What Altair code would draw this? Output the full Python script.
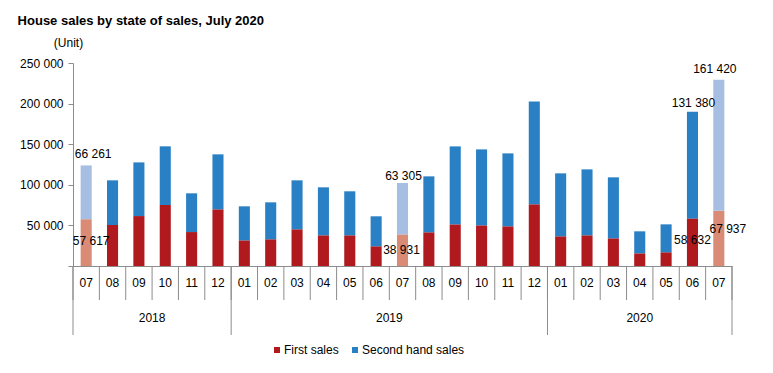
import altair as alt
import pandas as pd

years = ["2018"] * 6 + ["2019"] * 12 + ["2020"] * 7
months = ["07", "08", "09", "10", "11", "12",
          "01", "02", "03", "04", "05", "06", "07", "08", "09", "10", "11", "12",
          "01", "02", "03", "04", "05", "06", "07"]
first_sales = [57617, 50500, 61500, 75100, 41800, 69800,
               31600, 32900, 45200, 37800, 37800, 24300, 38931, 41500, 51300, 50100, 48900, 76000,
               36600, 37800, 34100, 15600, 16900, 58632, 67937]
second_hand_sales = [66261, 55000, 66100, 72300, 47700, 67700,
                     41900, 45500, 60300, 59100, 54200, 36900, 63305, 68900, 96000, 93500, 89800, 126700,
                     77500, 81200, 75100, 27100, 34400, 131380, 161420]
highlighted = ["2018-07", "2019-07", "2020-07"]
labelled = ["2018-07", "2019-07", "2020-06", "2020-07"]

series_names = ["First sales", "Second hand sales"]
color_domain = ["First sales", "Second hand sales", "First sales ", "Second hand sales "]
color_range = ["#B0191D", "#2980C4", "#D98B76", "#A5BEE2"]

# label nudges (pixels): top label dx, dy ; first-sales label dx, dy
label_nudge = {
    "2018-07": (7, -11, 5, 22),
    "2019-07": (1, -7, -1, 16),
    "2020-06": (1, -9, 0, 22),
    "2020-07": (-4, -11, 9, 18),
}

keys = [f"{y}-{m}" for y, m in zip(years, months)]
n = len(keys)

rows = []
for i, k in enumerate(keys):
    hl = k in highlighted
    for s, (name, vals) in enumerate(zip(series_names, [first_sales, second_hand_sales])):
        rows.append({"key": k, "series": name, "value": vals[i], "order": s,
                     "cat": name + (" " if hl else "")})
bars_df = pd.DataFrame(rows)


def fmt(v):
    return f"{v:,}".replace(",", " ")


lab_rows = []
for i, k in enumerate(keys):
    if k in labelled:
        lab_rows.append({"key": k, "first": first_sales[i],
                         "total": first_sales[i] + second_hand_sales[i],
                         "first_txt": fmt(first_sales[i]),
                         "second_txt": fmt(second_hand_sales[i])})
lab_df = pd.DataFrame(lab_rows)

sep_rows = []
for b in range(n + 1):
    is_year = b == 0 or b == n or years[b] != years[b - 1]
    sep_rows.append({"pos": b, "year_sep": is_year})
sep_df = pd.DataFrame(sep_rows)

year_rows = []
for y in sorted(set(years)):
    idx = [i for i, yy in enumerate(years) if yy == y]
    year_rows.append({"year": y, "pos": (idx[0] + idx[-1] + 1) / 2})
year_df = pd.DataFrame(year_rows)

W, H = 659, 203
FONT = "Liberation Sans"
GRAY = "#8C8C8C"

xband = alt.X("key:N", sort=keys, scale=alt.Scale(paddingInner=0, paddingOuter=0),
              axis=alt.Axis(title=None, labelExpr="substring(datum.label, 5)", labelAngle=0,
                            ticks=False, domainColor=GRAY, labelPadding=11, labelFontSize=12,
                            labelFont=FONT, labelColor="#000000"))

yq = alt.Y("value:Q", stack="zero",
           scale=alt.Scale(domain=[0, 250000], nice=False),
           axis=alt.Axis(values=[0, 50000, 100000, 150000, 200000, 250000],
                         labelExpr="datum.value == 0 ? '' : replace(format(datum.value, ','), ',', ' ')",
                         grid=False, tickSize=5, domainColor=GRAY, tickColor=GRAY,
                         labelFontSize=12, labelFont=FONT, labelColor="#000000", labelPadding=5,
                         title="(Unit)", titleAngle=0, titleX=-5, titleY=-21,
                         titleAlign="center", titleBaseline="middle", titleFontWeight="normal",
                         titleFontSize=12, titleFont=FONT, titleColor="#000000"))

bars = alt.Chart(bars_df).mark_bar(width=alt.RelativeBandSize(0.42)).encode(
    x=xband,
    y=yq,
    color=alt.Color("cat:N", scale=alt.Scale(domain=color_domain, range=color_range),
                    legend=alt.Legend(values=series_names, title=None, orient="none",
                                      direction="horizontal", legendX=198, legendY=281,
                                      symbolType="square", symbolSize=36, symbolStrokeWidth=0,
                                      labelFontSize=12, labelFont=FONT, labelColor="#000000",
                                      labelOffset=1, columnPadding=10)),
    order=alt.Order("order:Q"),
)

label_layers = []
for k, (tdx, tdy, fdx, fdy) in label_nudge.items():
    base = alt.Chart(lab_df).transform_filter(alt.datum.key == k)
    label_layers.append(base.mark_text(dx=tdx, dy=tdy, fontSize=12, font=FONT, color="#000000").encode(
        x=alt.X("key:N", sort=keys), y=alt.Y("total:Q"), text="second_txt:N"))
    label_layers.append(base.mark_text(dx=fdx, dy=fdy, fontSize=12, font=FONT, color="#000000").encode(
        x=alt.X("key:N", sort=keys), y=alt.Y("first:Q"), text="first_txt:N"))

xq = alt.X("pos:Q", scale=alt.Scale(domain=[0, n], nice=False, zero=False), axis=None)

short_seps = alt.Chart(sep_df).mark_rule(color=GRAY, strokeWidth=1).encode(
    x=xq, y=alt.value(H), y2=alt.value(H + 34))
long_seps = alt.Chart(sep_df).transform_filter("datum.year_sep").mark_rule(
    color=GRAY, strokeWidth=1).encode(x=xq, y=alt.value(H), y2=alt.value(H + 69))
year_text = alt.Chart(year_df).mark_text(fontSize=12, font=FONT, color="#000000",
                                         baseline="middle").encode(
    x=xq, y=alt.value(H + 52), text="year:N")

main = alt.layer(bars, *label_layers)
deco = alt.layer(short_seps, long_seps, year_text)

chart = alt.layer(main, deco).resolve_scale(x="independent").properties(
    width=W, height=H,
    autosize=alt.AutoSizeParams(type="none"),
    padding={"left": 65, "top": 55, "right": 33, "bottom": 99},
    title=alt.TitleParams("House sales by state of sales, July 2020", anchor="start",
                          fontSize=13, font=FONT, fontWeight="bold", color="#000000",
                          dx=-2, dy=-4),
).configure_view(stroke=None)

chart.save("out.html", embed_options={"renderer": "svg", "actions": False})
